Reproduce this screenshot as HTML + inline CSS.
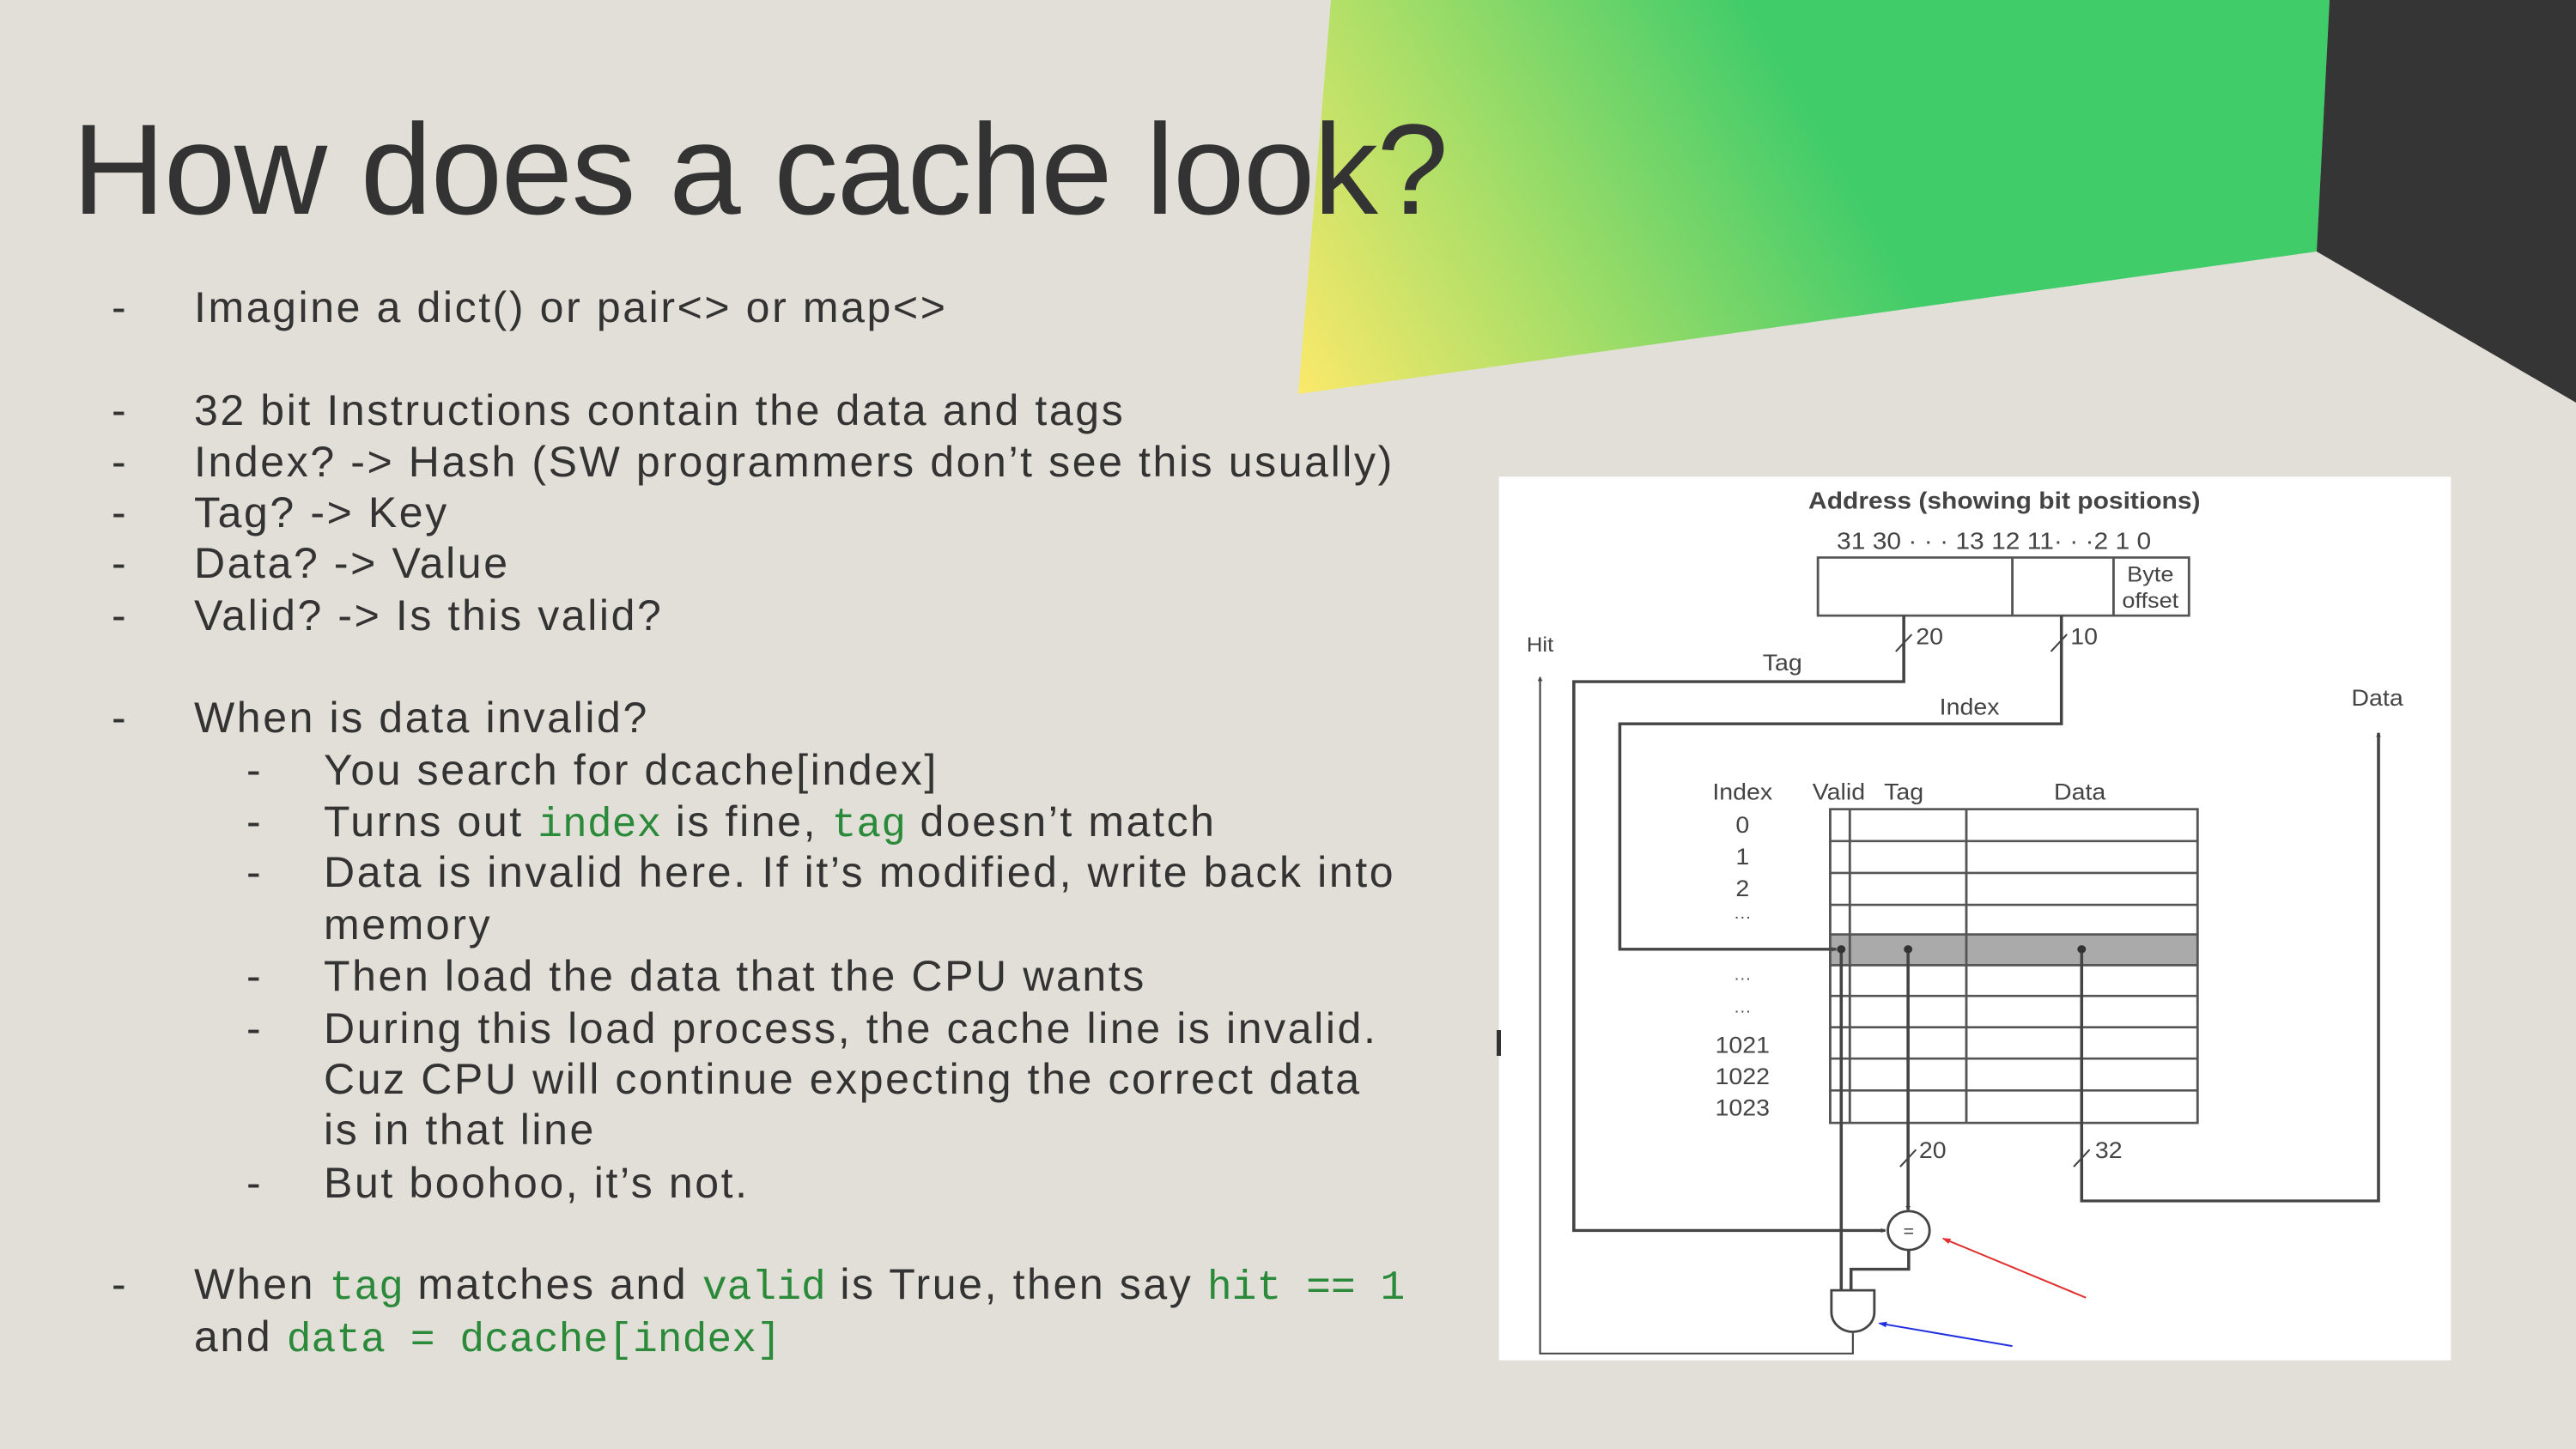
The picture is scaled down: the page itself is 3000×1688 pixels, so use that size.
<!DOCTYPE html>
<html><head><meta charset="utf-8"><style>
html,body{margin:0;padding:0}
body{width:3000px;height:1688px;position:relative;overflow:hidden;background:#e2dfd8;font-family:"Liberation Sans",sans-serif;color:#333}
.t{position:absolute;font-size:150px;left:84px;top:112px;line-height:170px;letter-spacing:-1.5px;color:#333;white-space:nowrap}
.l{position:absolute;font-size:50px;line-height:60px;white-space:nowrap;color:#333;letter-spacing:2.6px}
.c{font-family:"Liberation Mono",monospace;color:#2a8a3a;font-size:48px;letter-spacing:0}
</style></head><body>
<svg width="3000" height="1688" style="position:absolute;left:0;top:0">
<defs><linearGradient id="g" x1="1512" y1="459" x2="2100" y2="120" gradientUnits="userSpaceOnUse">
<stop offset="0" stop-color="#fbe96a"/><stop offset="0.45" stop-color="#a8de68"/><stop offset="1" stop-color="#41cc6a"/></linearGradient></defs>
<polygon points="1550,0 2713,0 2698,293 1512,459" fill="url(#g)"/>
<polygon points="2713,0 3000,0 3000,469 2698,293" fill="#353535"/>
</svg>
<div class="t">How does a cache look?</div>
<div class="l" style="left:130px;top:328px">-</div><div class="l" style="left:226px;top:328px">Imagine a dict() or pair&lt;&gt; or map&lt;&gt;</div>
<div class="l" style="left:130px;top:448px">-</div><div class="l" style="left:226px;top:448px">32 bit Instructions contain the data and tags</div>
<div class="l" style="left:130px;top:508px">-</div><div class="l" style="left:226px;top:508px">Index? -&gt; Hash (SW programmers don’t see this usually)</div>
<div class="l" style="left:130px;top:567px">-</div><div class="l" style="left:226px;top:567px">Tag? -&gt; Key</div>
<div class="l" style="left:130px;top:626px">-</div><div class="l" style="left:226px;top:626px">Data? -&gt; Value</div>
<div class="l" style="left:130px;top:687px">-</div><div class="l" style="left:226px;top:687px">Valid? -&gt; Is this valid?</div>
<div class="l" style="left:130px;top:806px">-</div><div class="l" style="left:226px;top:806px">When is data invalid?</div>
<div class="l" style="left:287px;top:867px">-</div><div class="l" style="left:377px;top:867px">You search for dcache[index]</div>
<div class="l" style="left:287px;top:927px">-</div><div class="l" style="left:377px;top:927px">Turns out <span class="c">index</span> is fine, <span class="c">tag</span> doesn’t match</div>
<div class="l" style="left:287px;top:986px">-</div><div class="l" style="left:377px;top:986px">Data is invalid here. If it’s modified, write back into</div>
<div class="l" style="left:377px;top:1047px">memory</div>
<div class="l" style="left:287px;top:1107px">-</div><div class="l" style="left:377px;top:1107px">Then load the data that the CPU wants</div>
<div class="l" style="left:287px;top:1168px">-</div><div class="l" style="left:377px;top:1168px">During this load process, the cache line is invalid.</div>
<div class="l" style="left:377px;top:1227px">Cuz CPU will continue expecting the correct data</div>
<div class="l" style="left:377px;top:1286px">is in that line</div>
<div class="l" style="left:287px;top:1348px">-</div><div class="l" style="left:377px;top:1348px">But boohoo, it’s not.</div>
<div class="l" style="left:130px;top:1466px">-</div><div class="l" style="left:226px;top:1466px">When <span class="c">tag</span> matches and <span class="c">valid</span> is True, then say <span class="c">hit == 1</span></div>
<div class="l" style="left:226px;top:1527px">and <span class="c">data = dcache[index]</span></div>

<svg style="position:absolute;left:1740px;top:550px" width="1120" height="1040" viewBox="0 0 1568 1568" preserveAspectRatio="none" font-family="Liberation Sans, sans-serif">
<defs><marker id="a" markerWidth="8" markerHeight="8" refX="7" refY="4" orient="auto" markerUnits="userSpaceOnUse"><path d="M0,0 L8,4 L0,8z" fill="#444"/></marker>
<marker id="ar" markerWidth="14" markerHeight="10" refX="12" refY="5" orient="auto" markerUnits="userSpaceOnUse"><path d="M0,0 L14,5 L0,10z" fill="#e03030"/></marker>
<marker id="ab" markerWidth="14" markerHeight="10" refX="12" refY="5" orient="auto" markerUnits="userSpaceOnUse"><path d="M0,0 L14,5 L0,10z" fill="#2030e0"/></marker></defs>
<rect x="8" y="8" width="1552" height="1552" fill="#fff"/>
<g fill="none" stroke="#555" stroke-width="4">
<rect x="528" y="150" width="605" height="102"/><line x1="845" y1="150" x2="845" y2="252"/><line x1="1010" y1="150" x2="1010" y2="252"/>
<rect x="548" y="812" width="599" height="54" fill="#aaa" stroke="none"/>
<rect x="548" y="592" width="599" height="551"/>
<line x1="580" y1="592" x2="580" y2="1143"/><line x1="770" y1="592" x2="770" y2="1143"/>
<path d="M548,648H1147M548,704H1147M548,760H1147M548,812H1147M548,866H1147M548,920H1147M548,975H1147M548,1030H1147M548,1086H1147"/>
</g>
<g fill="none" stroke="#444" stroke-width="5">
<path d="M668,252V368H130V1332H638" marker-end="url(#a)"/>
<path d="M925,252V442H205V838H558" marker-end="url(#a)"/>
<path d="M958,838V1280H1442V458" marker-end="url(#a)"/>
<path d="M675,838V1296" marker-end="url(#a)"/>
<path d="M566,838V1437"/>
<path d="M676,1366V1400H582V1437"/>
<path d="M585,1512V1548H75V360" marker-end="url(#a)" stroke-width="3"/>
<circle cx="676" cy="1332" r="34" stroke-width="4" fill="#fff"/>
<path d="M550,1437H620V1475A35,35 0 0 1 550,1475Z" stroke-width="4" fill="#fff"/>
<path d="M655,315L681,285M908,315L934,285M662,1220L688,1190M945,1220L971,1190" stroke-width="3"/>
</g>
<g fill="#333"><circle cx="566" cy="838" r="7"/><circle cx="675" cy="838" r="7"/><circle cx="958" cy="838" r="7"/></g>
<g fill="#444" text-anchor="middle">
<text x="832" y="64" font-size="42" font-weight="bold">Address (showing bit positions)</text>
<text x="815" y="135" font-size="42">31 30 · · · 13 12 11· · ·2  1 0</text>
<text x="1070" y="192" font-size="38">Byte</text><text x="1070" y="238" font-size="38">offset</text>
<text x="710" y="302" font-size="40">20</text><text x="962" y="302" font-size="40">10</text>
<text x="470" y="348" font-size="40">Tag</text><text x="775" y="426" font-size="40">Index</text>
<text x="75" y="315" font-size="36">Hit</text><text x="1440" y="410" font-size="40">Data</text>
<text x="405" y="575" font-size="40">Index</text><text x="562" y="575" font-size="40">Valid</text>
<text x="668" y="575" font-size="40">Tag</text><text x="955" y="575" font-size="40">Data</text>
<text x="405" y="633" font-size="40">0</text><text x="405" y="689" font-size="40">1</text><text x="405" y="745" font-size="40">2</text>
<text x="405" y="790" font-size="28">···</text><text x="405" y="898" font-size="28">···</text><text x="405" y="955" font-size="28">···</text>
<text x="405" y="1020" font-size="40">1021</text><text x="405" y="1075" font-size="40">1022</text><text x="405" y="1130" font-size="40">1023</text>
<text x="715" y="1205" font-size="40">20</text><text x="1002" y="1205" font-size="40">32</text>
<text x="676" y="1343" font-size="30">=</text>
</g>
<line x1="965" y1="1450" x2="732" y2="1346" stroke="#e03030" stroke-width="3" marker-end="url(#ar)"/>
<line x1="845" y1="1535" x2="628" y2="1495" stroke="#2030e0" stroke-width="3" marker-end="url(#ab)"/>
</svg>
<div style="position:absolute;left:1743px;top:1200px;width:5px;height:30px;background:#333"></div>
</body></html>
